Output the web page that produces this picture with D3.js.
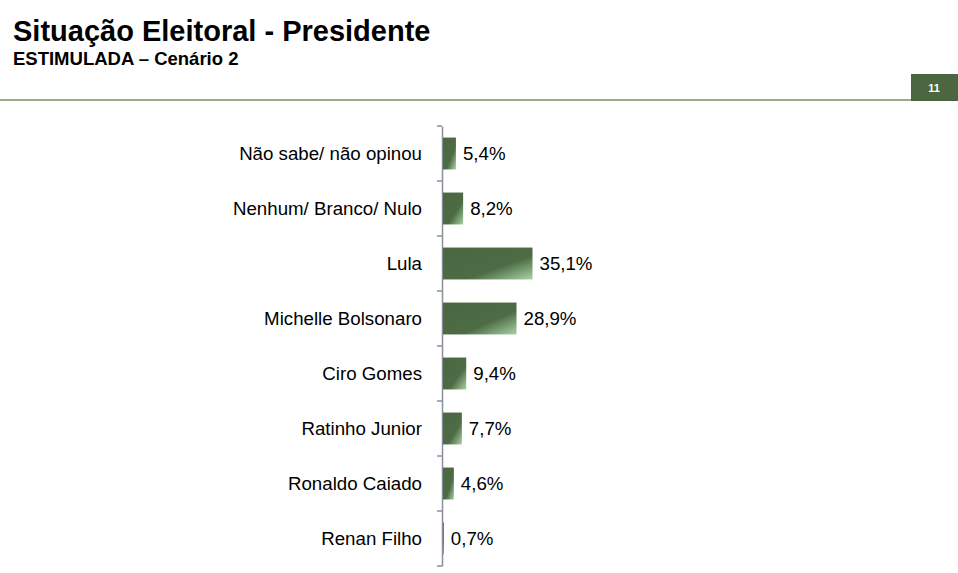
<!DOCTYPE html>
<html>
<head>
<meta charset="utf-8">
<script src="https://cdn.jsdelivr.net/npm/d3@7"></script>
<style>
  body { margin: 0; background: #fff; }
  svg { display: block; font-family: Arial, "Liberation Sans", sans-serif; }
</style>
</head>
<body>
<div id="viz"></div>
<script>
const categories = [
    "Não sabe/ não opinou",
    "Nenhum/ Branco/ Nulo",
    "Lula",
    "Michelle Bolsonaro",
    "Ciro Gomes",
    "Ratinho Junior",
    "Ronaldo Caiado",
    "Renan Filho"
];
const values = [5.4, 8.2, 35.1, 28.9, 9.4, 7.7, 4.6, 0.7];
const pageNumber = "11";

const width = 958;
const height = 573;

const svg = d3.select('#viz')
              .append('svg')
              .attr('width', width)
              .attr('height', height);

// gradient for the bars
const defs = svg.append('defs');
const grad = defs.append('linearGradient')
                 .attr('id', 'barGrad')
                 .attr('x1', '0%').attr('y1', '0%')
                 .attr('x2', '100%').attr('y2', '100%');
grad.append('stop').attr('offset', '0%').attr('stop-color', '#4a6741');
grad.append('stop').attr('offset', '62%').attr('stop-color', '#4d6b44');
grad.append('stop').attr('offset', '100%').attr('stop-color', '#a8d3a6');

// header
svg.append('text')
   .attr('x', 13)
   .attr('y', 41)
   .attr('font-size', 29)
   .attr('font-weight', 'bold')
   .attr('fill', '#000')
   .text('Situação Eleitoral - Presidente');
svg.append('text')
   .attr('x', 13)
   .attr('y', 65)
   .attr('font-size', 18.5)
   .attr('font-weight', 'bold')
   .attr('fill', '#000')
   .text('ESTIMULADA – Cenário 2');

svg.append('rect')
   .attr('x', 0)
   .attr('y', 99)
   .attr('width', 911)
   .attr('height', 2)
   .attr('fill', '#9aab88');
svg.append('rect')
   .attr('x', 911)
   .attr('y', 74)
   .attr('width', 47)
   .attr('height', 27)
   .attr('fill', '#4b6641');
svg.append('text')
   .attr('x', 934)
   .attr('y', 92)
   .attr('text-anchor', 'middle')
   .attr('font-size', 11)
   .attr('font-weight', 'bold')
   .attr('fill', '#fff')
   .text(pageNumber);

// chart
const x0 = 442;
const xScale = d3.scaleLinear().domain([0, 35.1]).range([x0, 532.5]);
const yScale = d3.scaleBand().domain(categories).range([126, 566]).paddingInner(0.42).paddingOuter(0.21);

const yAxis = d3.axisLeft(yScale).tickSize(0).tickFormat('');
const axisG = svg.append('g')
   .attr('transform', 'translate(' + x0 + ',0)')
   .call(yAxis);
axisG.select('.domain').attr('stroke', '#8a9099').attr('stroke-width', 1.5);

// tick marks between categories
const step = yScale.step();
const tickYs = d3.range(categories.length + 1).map(i => 126 + i * step);
svg.append('g')
   .selectAll('line')
   .data(tickYs)
   .enter()
   .append('line')
   .attr('x1', x0 - 5)
   .attr('x2', x0)
   .attr('y1', d => d)
   .attr('y2', d => d)
   .attr('stroke', '#8a9099')
   .attr('stroke-width', 1.5);

svg.append('g')
   .selectAll('rect')
   .data(values)
   .enter()
   .append('rect')
   .attr('x', x0 + 1)
   .attr('y', (d, i) => yScale(categories[i]))
   .attr('width', d => xScale(d) - x0 - 1)
   .attr('height', yScale.bandwidth())
   .attr('fill', 'url(#barGrad)');

svg.append('g')
   .selectAll('text')
   .data(categories)
   .enter()
   .append('text')
   .attr('x', 422)
   .attr('y', d => yScale(d) + yScale.bandwidth() / 2)
   .attr('dy', '0.35em')
   .attr('text-anchor', 'end')
   .attr('font-size', 18.7)
   .attr('fill', '#000')
   .text(d => d);

svg.append('g')
   .selectAll('text')
   .data(values)
   .enter()
   .append('text')
   .attr('x', d => xScale(d) + 7)
   .attr('y', (d, i) => yScale(categories[i]) + yScale.bandwidth() / 2)
   .attr('dy', '0.35em')
   .attr('font-size', 18.7)
   .attr('fill', '#000')
   .text(d => d.toFixed(1).replace('.', ',') + '%');
</script>
</body>
</html>
